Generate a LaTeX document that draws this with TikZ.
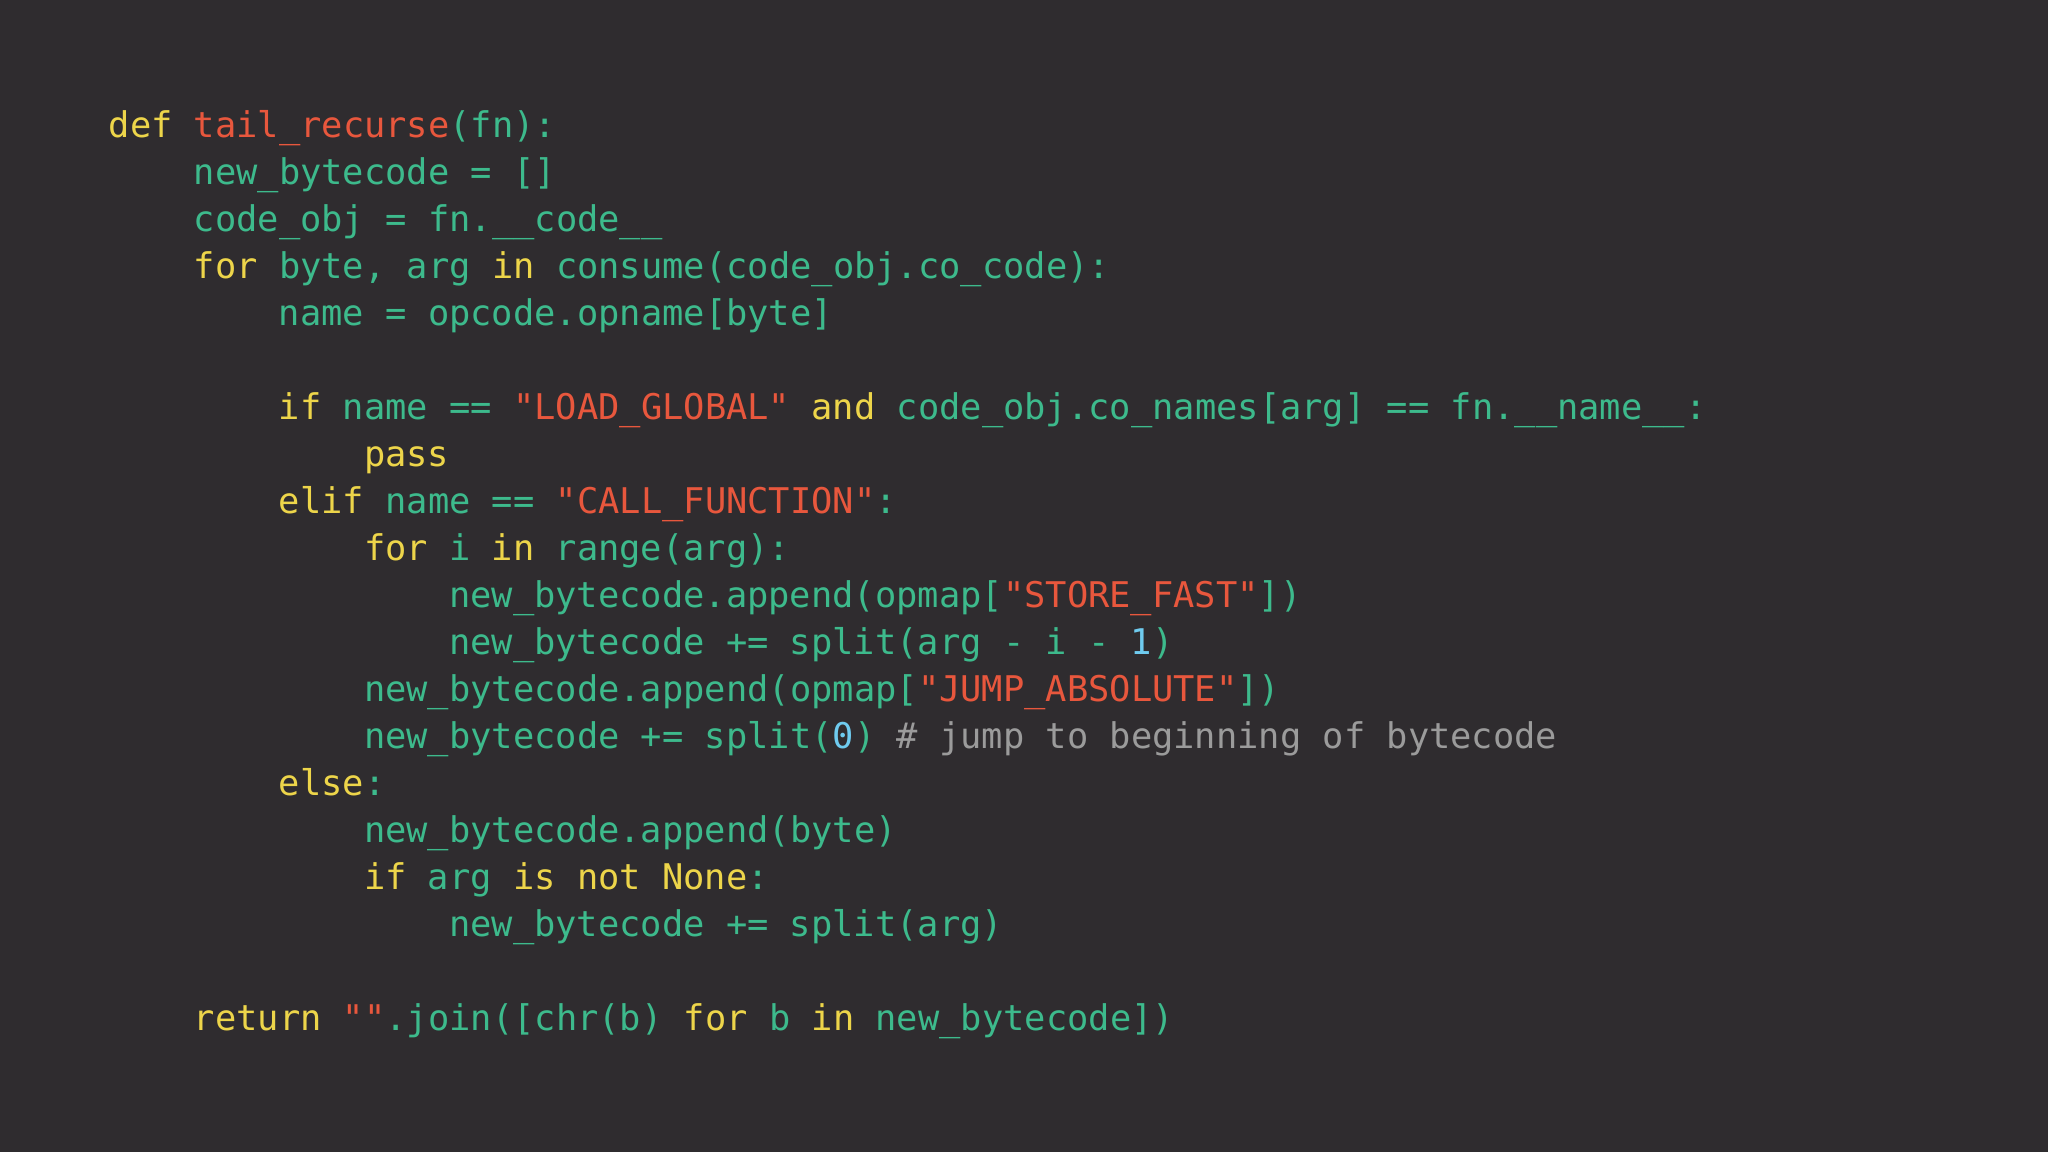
\documentclass[tikz,border=0pt]{standalone}
\usepackage{fontspec}
\setmonofont{DejaVu Sans Mono}
\definecolor{bg}{HTML}{2F2C2F}
\definecolor{kw}{HTML}{EDD54A}
\definecolor{gr}{HTML}{3DBA8C}
\definecolor{rd}{HTML}{E8573D}
\definecolor{cy}{HTML}{6FCBEF}
\definecolor{cm}{HTML}{9B9B9B}
\newcommand{\K}[1]{\textcolor{kw}{#1}}
\newcommand{\G}[1]{\textcolor{gr}{#1}}
\newcommand{\R}[1]{\textcolor{rd}{#1}}
\newcommand{\Cy}[1]{\textcolor{cy}{#1}}
\newcommand{\Cm}[1]{\textcolor{cm}{#1}}
\begin{document}
\begin{tikzpicture}[x=1cm,y=1cm,
  ln/.style={anchor=base west,inner sep=0pt,font=\ttfamily\fontsize{10.07pt}{12pt}\selectfont}]
\fill[bg] (0,0) rectangle (20.48,11.52);
\useasboundingbox (0,0) rectangle (20.48,11.52);
\def\ind{0.851}
\def\L#1#2#3{\node[ln] (l#1) at ({1.08+#2*\ind},{11.52-1.375-(#1-1)*0.47}) {#3};}
\L{1}{0}{\K{def}\ \R{tail\_recurse}\G{(fn):}}
\L{2}{1}{\G{new\_bytecode = []}}
\L{3}{1}{\G{code\_obj = fn.\_\_code\_\_}}
\L{4}{1}{\K{for}\G{\ byte, arg\ }\K{in}\G{\ consume(code\_obj.co\_code):}}
\L{5}{2}{\G{name = opcode.opname[byte]}}
\L{7}{2}{\K{if}\G{\ name == }\R{"LOAD\_GLOBAL"}\K{\ and}\G{\ code\_obj.co\_names[arg] == fn.\_\_name\_\_:}}
\L{8}{3}{\K{pass}}
\L{9}{2}{\K{elif}\G{\ name == }\R{"CALL\_FUNCTION"}\G{:}}
\L{10}{3}{\K{for}\G{\ i\ }\K{in}\G{\ range(arg):}}
\L{11}{4}{\G{new\_bytecode.append(opmap[}\R{"STORE\_FAST"}\G{])}}
\L{12}{4}{\G{new\_bytecode += split(arg - i -\ }\Cy{1}\G{)}}
\L{13}{3}{\G{new\_bytecode.append(opmap[}\R{"JUMP\_ABSOLUTE"}\G{])}}
\L{14}{3}{\G{new\_bytecode += split(}\Cy{0}\G{)\ }\Cm{\# jump to beginning of bytecode}}
\L{15}{2}{\K{else}\G{:}}
\L{16}{3}{\G{new\_bytecode.append(byte)}}
\L{17}{3}{\K{if}\G{\ arg\ }\K{is not None}\G{:}}
\L{18}{4}{\G{new\_bytecode += split(arg)}}
\L{20}{1}{\K{return}\G{\ }\R{""}\G{.join([chr(b)\ }\K{for}\G{\ b\ }\K{in}\G{\ new\_bytecode])}}
\end{tikzpicture}
\end{document}
